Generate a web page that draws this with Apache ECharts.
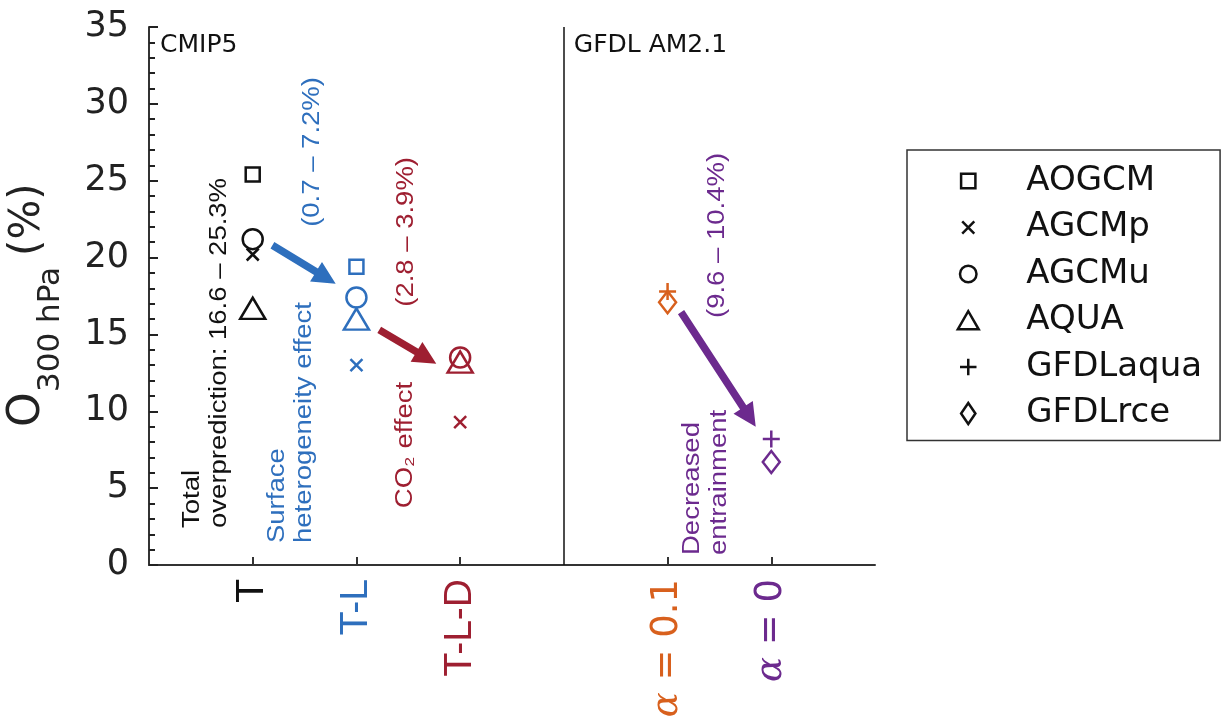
<!DOCTYPE html>
<html><head><meta charset="utf-8">
<script src="https://cdn.jsdelivr.net/npm/echarts@6/dist/echarts.min.js"></script>
<style>html,body{margin:0;padding:0;background:#fff}#c{width:1225px;height:724px}</style>
</head><body><div id="c"></div>
<script>
// ---- data ----
const xTickValues = [1, 2, 3, 5, 6];
const xTickLabels = ['T', 'T-L', 'T-L-D', 'α = 0.1', 'α = 0'];
const xTickColors = ['#111111', '#2e6fbd', '#9e1f31', '#d8601d', '#6c2a8e'];
const dividerX = 4;
const panelLabels = ['CMIP5', 'GFDL AM2.1'];

const seriesNames = ['AOGCM', 'AGCMp', 'AGCMu', 'AQUA', 'GFDLaqua', 'GFDLrce'];
const aogcm = [[1, 25.4], [2, 19.4]];
const agcmp = [[1, 20.2], [2, 13.0], [3, 9.3]];
const agcmu = [[1, 21.2], [2, 17.4], [3, 13.5]];
const aqua = [[1, 16.7], [2, 16.0], [3, 13.2]];
const gfdlaqua = [[5, 17.8], [6, 8.2]];
const gfdlrce = [[5, 17.1], [6, 6.7]];

// arrows: [x0, y0, x1, y1]
const arrows = [[1.19, 20.8, 1.80, 18.3], [2.22, 15.3, 2.77, 13.1], [5.13, 16.45, 5.85, 9.0]];
const arrowColorIndex = [1, 2, 4];

// ---- helpers ----
const colorForX = x => xTickColors[xTickValues.indexOf(x)];
const FONT_A = '"Liberation Sans", Arial, sans-serif';
const FONT_D = '"DejaVu Sans", sans-serif';

const annotations = [
  {text: 'Total\noverprediction: 16.6 – 25.3%', at: [0.548, 2.41], color: '#111', rot: true},
  {text: 'Surface\nheterogeneity effect', at: [1.365, 1.43], color: xTickColors[1], rot: true},
  {text: '(0.7 – 7.2%)', at: [1.577, 22.0], color: xTickColors[1], rot: true},
  {text: 'CO₂ effect', at: [2.47, 3.7], color: xTickColors[2], rot: true},
  {text: '(2.8 – 3.9%)', at: [2.48, 16.8], color: xTickColors[2], rot: true},
  {text: 'Decreased\nentrainment', at: [5.375, 0.65], color: xTickColors[4], rot: true},
  {text: '(9.6 – 10.4%)', at: [5.48, 16.07], color: xTickColors[4], rot: true},
  {text: panelLabels[0], at: [0.106, 33.8], color: '#111', rot: false},
  {text: panelLabels[1], at: [4.096, 33.8], color: '#111', rot: false}
];

function scatter(name, data, symbol, size) {
  return {
    type: 'scatter', name, symbol, symbolSize: size, silent: true, z: 4,
    data: data.map(p => ({value: p, itemStyle: {borderColor: colorForX(p[0])}})),
    itemStyle: {color: 'transparent', borderColor: '#111', borderWidth: 2.5, opacity: 1}
  };
}
const XPATH = 'path://M0,0L10,10M10,0L0,10';
const PLUSPATH = 'path://M5,0L5,10M0,5L10,5';

const legendIcons = [
  'path://M0,0M20,20M3.5,3.5L16.5,3.5L16.5,16.5L3.5,16.5Z',
  'path://M0,0M20,20M4.5,4.5L15.5,15.5M15.5,4.5L4.5,15.5',
  'path://M0,0M20,20M2.5,10A7.5,7.5 0 1,1 17.5,10A7.5,7.5 0 1,1 2.5,10Z',
  'path://M0,0M20,20M0.5,18L10,1.5L19.5,18Z',
  'path://M0,0M20,20M10,2.5L10,17.5M2.5,10L17.5,10',
  'path://M0,0M20,20M10,0.5L16.5,10L10,19.5L3.5,10Z'
];

const rich = {};
xTickColors.forEach((c, i) => {
  rich['c' + i] = {color: c, fontSize: i < 3 ? 39 : 37, fontFamily: i < 3 ? FONT_A : FONT_D};
  rich['a' + i] = {color: c, fontSize: 37, fontFamily: '"DejaVu Serif", serif', fontStyle: 'italic'};
});

const chart = echarts.init(document.getElementById('c'), null, {renderer: 'canvas'});
const series = [
  scatter(seriesNames[0], aogcm, 'rect', 14),
  scatter(seriesNames[1], agcmp, XPATH, 12),
  scatter(seriesNames[2], agcmu, 'circle', 20),
  scatter(seriesNames[3], aqua, 'triangle', [25, 21]),
  scatter(seriesNames[4], gfdlaqua, PLUSPATH, 17),
  scatter(seriesNames[5], gfdlrce, 'diamond', [17, 22])
];
series[0].markLine = {
  silent: true, symbol: ['none', 'none'], label: {show: false},
  lineStyle: {color: '#111', width: 1.5, type: 'solid'},
  data: [{xAxis: dividerX}]
};
series.push({
  type: 'custom', silent: true, z: 3, clip: false,
  data: arrows,
  renderItem: (params, api) => {
    const p0 = api.coord([api.value(0), api.value(1)]);
    const p1 = api.coord([api.value(2), api.value(3)]);
    const dx = p1[0] - p0[0], dy = p1[1] - p0[1];
    const len = Math.hypot(dx, dy), ux = dx / len, uy = dy / len, nx = -uy, ny = ux;
    const w = 3.7, H = 11.5, L = 23;
    const bx = p1[0] - ux * L, by = p1[1] - uy * L;
    const pts = [[p0[0] + nx * w, p0[1] + ny * w], [bx + nx * w, by + ny * w], [bx + nx * H, by + ny * H], p1,
      [bx - nx * H, by - ny * H], [bx - nx * w, by - ny * w], [p0[0] - nx * w, p0[1] - ny * w]];
    return {type: 'polygon', shape: {points: pts}, style: {fill: xTickColors[arrowColorIndex[params.dataIndex]]}};
  }
});
series.push({
  type: 'custom', silent: true, z: 5, clip: false,
  data: annotations.map(a => a.at),
  renderItem: (params, api) => {
    const a = annotations[params.dataIndex];
    const p = api.coord([api.value(0), api.value(1)]);
    if (a.rot) {
      return {type: 'text', x: p[0], y: p[1], rotation: Math.PI / 2, scaleX: 1.17, scaleY: 1,
        style: {text: a.text, fill: a.color, font: '23.5px ' + FONT_A, lineHeight: 27,
          align: 'left', verticalAlign: 'middle', textAlign: 'left', textVerticalAlign: 'middle'}};
    }
    return {type: 'text', x: p[0], y: p[1],
      style: {text: a.text, fill: a.color, font: '25px ' + FONT_D,
        align: 'left', verticalAlign: 'middle', textAlign: 'left', textVerticalAlign: 'middle'}};
  }
});

chart.setOption({
  animation: false,
  backgroundColor: '#ffffff',
  grid: {left: 149, right: 350, top: 27, bottom: 159, containLabel: false},
  xAxis: {
    type: 'value', min: 0, max: 7, interval: 1,
    splitLine: {show: false},
    axisLine: {show: true, onZero: false, lineStyle: {color: '#333', width: 2}},
    axisTick: {show: true, inside: true, length: 8, customValues: xTickValues, lineStyle: {color: '#333', width: 2}},
    axisLabel: {
      customValues: xTickValues, rotate: 90, margin: 14,
      formatter: v => {
        const i = xTickValues.indexOf(v);
        if (i < 0) return '';
        const lab = xTickLabels[i];
        if (lab.startsWith('α')) return '{a' + i + '|α}{c' + i + '|' + lab.slice(1) + '}';
        return '{c' + i + '|' + lab + '}';
      },
      rich
    }
  },
  yAxis: {
    type: 'value', min: 0, max: 35, interval: 5,
    splitLine: {show: false},
    axisLine: {show: true, onZero: false, lineStyle: {color: '#333', width: 2}},
    axisTick: {show: true, inside: true, length: 9, lineStyle: {color: '#222', width: 2}},
    minorTick: {show: true, splitNumber: 5, length: 6, lineStyle: {color: '#222', width: 2}},
    axisLabel: {fontFamily: FONT_D, fontSize: 35, color: '#222', margin: 20}
  },
  legend: {
    orient: 'vertical', left: 907, top: 150,
    padding: [14, 18, 10, 49], itemGap: 12.5, itemWidth: 22, itemHeight: 22,
    borderColor: '#333', borderWidth: 1.5, selectedMode: false,
    textStyle: {fontFamily: FONT_D, fontSize: 34, color: '#111', padding: [0, 0, 0, 42], lineHeight: 34},
    itemStyle: {color: 'transparent', borderColor: '#111', borderWidth: 2.5},
    data: seriesNames.map((n, i) => ({name: n, icon: legendIcons[i]}))
  },
  graphic: [
    {type: 'text', x: 28, y: 427, rotation: Math.PI / 2,
      style: {text: 'O', font: '44px ' + FONT_D, fill: '#222', align: 'left', verticalAlign: 'middle', textAlign: 'left', textVerticalAlign: 'middle'}},
    {type: 'text', x: 51, y: 392, rotation: Math.PI / 2,
      style: {text: '300 hPa', font: '31px ' + FONT_D, fill: '#222', align: 'left', verticalAlign: 'middle', textAlign: 'left', textVerticalAlign: 'middle'}},
    {type: 'text', x: 28, y: 256, rotation: Math.PI / 2,
      style: {text: '(%)', font: '42px ' + FONT_D, fill: '#222', align: 'left', verticalAlign: 'middle', textAlign: 'left', textVerticalAlign: 'middle'}}
  ],
  series
});
</script></body></html>
